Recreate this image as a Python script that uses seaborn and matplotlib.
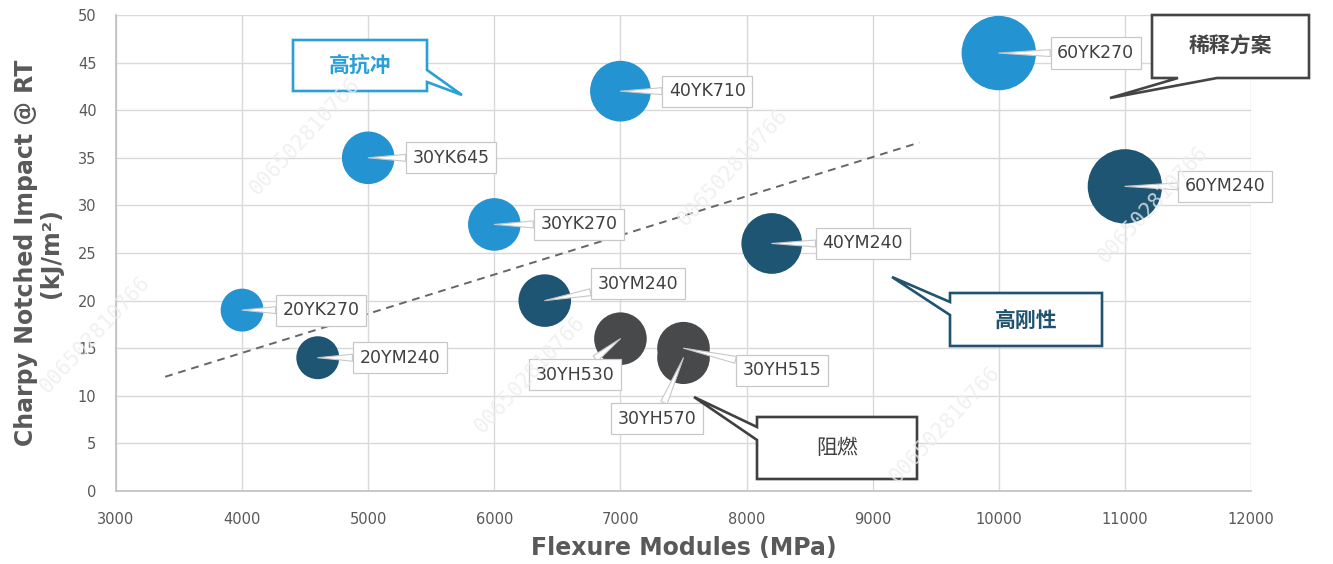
import numpy as np
import pandas as pd
import matplotlib
matplotlib.use("Agg")
import matplotlib.pyplot as plt
import seaborn as sns
from matplotlib.patches import Polygon

# ---------------- data ----------------
grades = ["20YK270", "20YM240", "30YK645", "30YK270", "40YK710", "30YM240",
          "30YH530", "30YH570", "30YH515", "40YM240", "60YK270", "60YM240"]
modulus = [4000, 4600, 5000, 6000, 7000, 6400, 7000, 7500, 7500, 8200, 10000, 11000]
impact = [19, 14, 35, 28, 42, 20, 16, 14, 15, 26, 46, 32]
glass_fiber = [20, 20, 30, 30, 40, 30, 30, 30, 30, 40, 60, 60]
family = ["YK", "YM", "YK", "YK", "YK", "YM", "YH", "YH", "YH", "YM", "YK", "YM"]

trend_x = [3390, 9370]
trend_y = [12.0, 36.6]

x_ticks = [3000, 4000, 5000, 6000, 7000, 8000, 9000, 10000, 11000, 12000]
y_ticks = [0, 5, 10, 15, 20, 25, 30, 35, 40, 45, 50]

# label box centre offsets from bubble centre (pixels, y down)
label_dx = [79, 82, 83, 84.5, 87, 93, -45.5, -26.5, 98.5, 91, 97, 100]
label_dy = [0, 0, 0, 0, 0, -17, 36, 61, 22, 0, 0, 0]

palette = {"YK": "#2493d2", "YM": "#1e5573", "YH": "#48494b"}

W, H = 1333, 564


def fpx(px, py):
    return (px / W, 1 - py / H)


sns.set_style("white")
plt.rcParams["font.family"] = ["DejaVu Sans", "Noto Sans CJK SC"]

fig = plt.figure(figsize=(W / 100, H / 100), dpi=100)
ax = fig.add_axes([116 / W, 1 - 491 / H, 1135 / W, 476 / H])

df = pd.DataFrame({"modulus": modulus, "impact": impact, "gf": glass_fiber,
                   "family": family, "grade": grades})

K = 47.8
sns.scatterplot(data=df, x="modulus", y="impact", hue="family", palette=palette,
                size="gf", sizes=(20 * K, 60 * K), size_norm=(20, 60),
                legend=False, linewidth=0, ax=ax, zorder=3)

sns.lineplot(x=trend_x, y=trend_y, ax=ax, color="#666666", lw=1.4,
             linestyle=(0, (4, 3)), zorder=2)

ax.set_xlim(3000, 12000)
ax.set_ylim(0, 50)
ax.set_xticks(x_ticks)
ax.set_yticks(y_ticks)
ax.grid(True, color="#d9d9d9", lw=1)
ax.set_axisbelow(True)
for s in ["top", "right"]:
    ax.spines[s].set_visible(False)
for s in ["left", "bottom"]:
    ax.spines[s].set_color("#bfbfbf")
    ax.spines[s].set_linewidth(1.2)
ax.tick_params(length=0, labelsize=10.5, labelcolor="#595959")
ax.tick_params(axis="x", pad=15)
ax.tick_params(axis="y", pad=14)

ax.set_xlabel("Flexure Modules (MPa)", fontsize=17, fontweight="bold", color="#595959")
ax.set_ylabel("Charpy Notched Impact @ RT\n(kJ/m²)", fontsize=17, fontweight="bold",
              color="#595959", linespacing=1.05)
ax.xaxis.set_label_coords(0.5, -0.095)
ax.yaxis.set_label_coords(-0.047, 0.5)

# data labels with wedge pointers
for g, x, y, dx, dy in zip(grades, modulus, impact, label_dx, label_dy):
    ax.annotate(g, xy=(x, y), xytext=(dx * 0.72, -dy * 0.72), textcoords="offset points",
                ha="center", va="center", fontsize=12.5, color="#404040",
                bbox=dict(boxstyle="square,pad=0.38", fc="white", ec="#c8c8c8", lw=0.9),
                arrowprops=dict(arrowstyle="wedge,tail_width=0.4", fc="white", ec="#c8c8c8",
                                lw=0.8, shrinkA=0, shrinkB=0),
                zorder=5)

# callouts (layout in figure pixels)
callouts = [
    ("高抗冲", "#2b9fd7", "bold",
     [(293, 40), (427, 40), (427, 70), (462, 95), (427, 82), (427, 91), (293, 91)], (360, 65)),
    ("稀释方案", "#454545", "bold",
     [(1152, 15), (1309, 15), (1309, 78), (1217, 78), (1110, 98), (1178, 78), (1152, 78)], (1230, 46)),
    ("高刚性", "#1f5370", "bold",
     [(950, 293), (1102, 293), (1102, 346), (950, 346), (950, 315), (892, 277), (950, 302)], (1026, 320)),
    ("阻燃", "#404040", "normal",
     [(757, 417), (917, 417), (917, 479), (757, 479), (757, 440), (694, 397), (757, 427)], (837, 448)),
]
for txt, col, wt, pts, c in callouts:
    poly = Polygon([fpx(*p) for p in pts], closed=True, transform=fig.transFigure,
                   fc="white", ec=col, lw=1.9, joinstyle="miter", zorder=6)
    fig.add_artist(poly)
    fig.text(*fpx(*c), txt, ha="center", va="center", fontsize=15, color=col,
             fontweight=wt, family=["Noto Sans CJK SC", "DejaVu Sans"], zorder=7)

# faint watermarks
wm = [(305, 137), (733, 168), (530, 375), (1153, 205), (945, 425), (95, 335)]
for px, py in wm:
    fig.text(*fpx(px, py), "006502810766", rotation=47, ha="center", va="center",
             fontsize=15, color="#ededed", family="DejaVu Sans Mono", zorder=10, alpha=0.8)

fig.savefig("out.png", dpi=100)
